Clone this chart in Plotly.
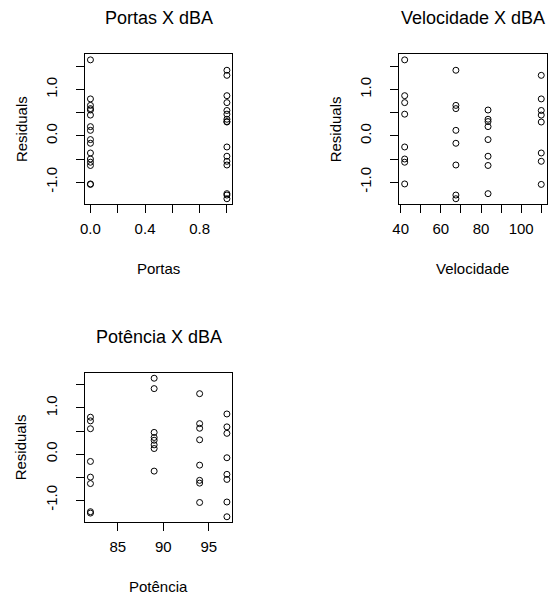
import plotly.graph_objects as go

# ---- data ----
# full factorial: velocidade x potencia x portas, one residual per cell
velocidade = [42]*8 + [67.5]*8 + [83.5]*8 + [110]*8
potencia = [82, 82, 89, 89, 94, 94, 97, 97] * 4
portas = [0, 1] * 16
residuals = [
    -0.50, 0.72, 1.645, 0.47, -0.57, -0.24, -1.04, 0.87,   # 42
    -0.16, -1.28, 0.12, 1.42, 0.66, -0.63, 0.59, -1.36,    # 67.5
    -0.64, -1.25, 0.20, 0.36, 0.56, 0.31, -0.08, -0.44,    # 83.5
    0.80, 0.55, -0.37, 0.30, -1.05, 1.31, 0.45, -0.55,     # 110
]

titles = ["Portas X dBA", "Velocidade X dBA", "Potência X dBA"]
xlabels = ["Portas", "Velocidade", "Potência"]
ylabel = "Residuals"

x_ticks = [
    ([0, 0.2, 0.4, 0.6, 0.8, 1.0], ["0.0", "", "0.4", "", "0.8", ""]),
    ([40, 50, 60, 70, 80, 90, 100, 110], ["40", "", "60", "", "80", "", "100", ""]),
    ([85, 90, 95], ["85", "90", "95"]),
]
y_tickvals = [-1.0, -0.5, 0.0, 0.5, 1.0, 1.5]
y_ticktext = ["-1.0", "", "0.0", "", "1.0", ""]

W, H = 548, 595
FONT = "Liberation Sans, Arial, sans-serif"

# panel boxes in pixels: (left, right, top, bottom)
boxes = [(79.0, 228.3, 54.3, 204.3), (397.3, 546.7, 54.3, 204.3), (79.0, 228.3, 372.7, 522.3)]
xs = [portas, velocidade, potencia]


def rlim(v):
    lo, hi = min(v), max(v)
    d = (hi - lo) * 0.04
    return [lo - d, hi + d]


fig = go.Figure()
annotations = []
for i, (box, xv) in enumerate(zip(boxes, xs)):
    l, r, t, b = box
    n = "" if i == 0 else str(i + 1)
    fig.add_trace(go.Scatter(
        x=xv, y=residuals, mode="markers",
        marker=dict(symbol="circle-open", size=6, color="black", line=dict(width=1, color="black")),
        xaxis="x" + n, yaxis="y" + n, showlegend=False, hoverinfo="skip",
    ))
    common = dict(showline=True, linecolor="black", linewidth=1, mirror=True,
                  ticks="outside", ticklen=8, tickwidth=1, tickcolor="black",
                  showgrid=False, zeroline=False,
                  tickfont=dict(family=FONT, size=15, color="black"))
    tv, tt = x_ticks[i]
    fig.update_layout(**{
        "xaxis" + n: dict(domain=[l / W, r / W], range=rlim(xv), anchor="y" + n,
                          tickmode="array", tickvals=tv, ticktext=tt,
                          ticklabelstandoff=3, **common),
        "yaxis" + n: dict(domain=[1 - b / H, 1 - t / H], range=rlim(residuals), anchor="x" + n,
                          tickmode="array", tickvals=y_tickvals, ticktext=y_ticktext,
                          tickangle=-90, ticklabelstandoff=13, **common),
    })
    cx = (l + r) / 2
    annotations.append(dict(text=titles[i], x=cx / W, y=1 - (t - 36) / H, xref="paper", yref="paper",
                            xanchor="center", yanchor="middle", showarrow=False,
                            font=dict(family=FONT, size=18, color="black")))
    annotations.append(dict(text=xlabels[i], x=cx / W, y=1 - (b + 64) / H, xref="paper", yref="paper",
                            xanchor="center", yanchor="middle", showarrow=False,
                            font=dict(family=FONT, size=15, color="black")))
    annotations.append(dict(text=ylabel, x=(l - 65) / W, y=1 - ((t + b) / 2) / H, xref="paper", yref="paper",
                            xanchor="center", yanchor="middle", textangle=-90, showarrow=False,
                            font=dict(family=FONT, size=15, color="black")))

fig.update_layout(width=W, height=H, autosize=False, margin=dict(l=0, r=0, t=0, b=0),
                  paper_bgcolor="white", plot_bgcolor="white", annotations=annotations)
fig.write_html("out.html")
